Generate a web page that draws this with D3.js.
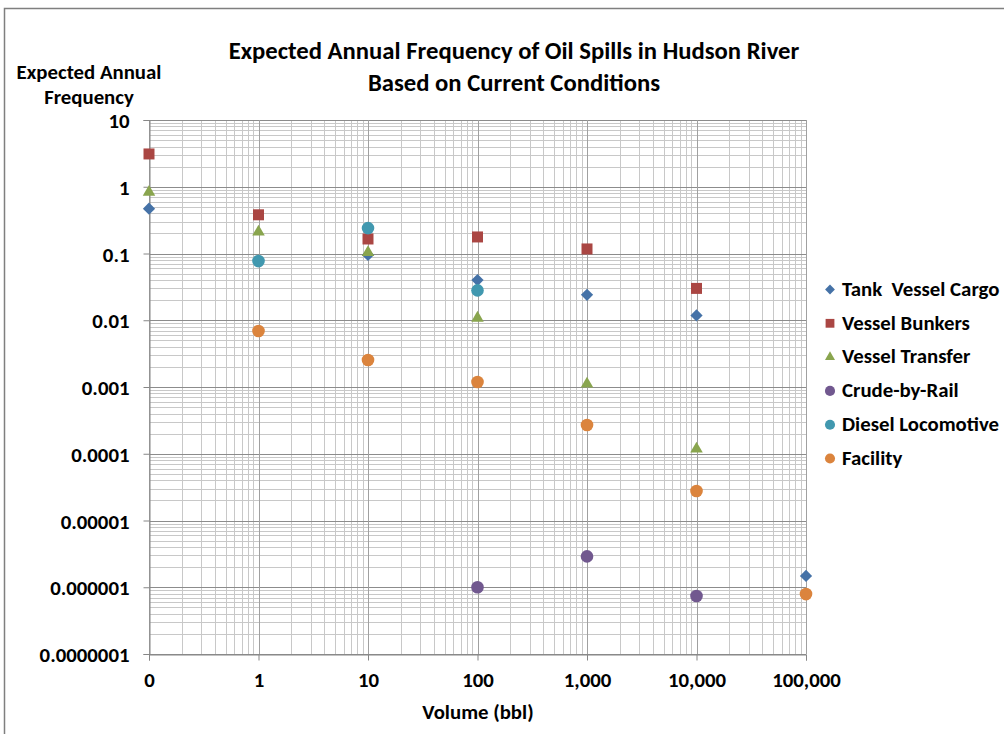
<!DOCTYPE html>
<html>
<head>
<meta charset="utf-8">
<script src="https://cdn.jsdelivr.net/npm/d3@7"></script>
<style>
body { margin: 0; background: #fff; }
text { font-family: Carlito, Calibri, Lato, "Open Sans", sans-serif; font-weight: bold; fill: #000; }
</style>
</head>
<body>
<script>
const width = 1004;
const height = 734;
const margin = {top: 120, right: 198, bottom: 80, left: 149};

// x positions (0 is drawn at the log axis minimum, 0.1)
const xTicks = [0.1, 1, 10, 100, 1000, 10000, 100000];
const yTicks = [1e-7, 1e-6, 1e-5, 1e-4, 1e-3, 1e-2, 1e-1, 1, 10];
const yTickLabels = ["0.0000001", "0.000001", "0.00001", "0.0001", "0.001", "0.01", "0.1", "1", "10"];

const seriesNames = ["Tank  Vessel Cargo", "Vessel Bunkers", "Vessel Transfer", "Crude-by-Rail", "Diesel Locomotive", "Facility"];
const seriesColors = ["#4572a7", "#aa4643", "#89a54e", "#71588f", "#4198af", "#db843d"];
const seriesShapes = ["diamond", "square", "triangle", "circle", "circle", "circle"];

const tankCargo = [[0.1, 0.47], [10, 0.095], [100, 0.040], [1000, 0.024], [10000, 0.0118], [100000, 0.00000148]];
const vesselBunkers = [[0.1, 3.1], [1, 0.38], [10, 0.165], [100, 0.177], [1000, 0.117], [10000, 0.030]];
const vesselTransfer = [[0.1, 0.83], [1, 0.21], [10, 0.104], [100, 0.0108], [1000, 0.00111], [10000, 0.000118]];
const crudeByRail = [[100, 0.0000010], [1000, 0.0000029], [10000, 0.00000074]];
const dieselLoco = [[1, 0.077], [10, 0.24], [100, 0.028]];
const facility = [[1, 0.0069], [10, 0.00254], [100, 0.00119], [1000, 0.00027], [10000, 0.0000277], [100000, 0.00000079]];

const seriesValues = [tankCargo, vesselBunkers, vesselTransfer, crudeByRail, dieselLoco, facility];

const svg = d3.select("body").append("svg")
  .attr("width", width)
  .attr("height", height);

svg.append("rect")
  .attr("width", width)
  .attr("height", height)
  .attr("fill", "#fff");

// chart area border
svg.append("rect")
  .attr("x", 4.5)
  .attr("y", 8.5)
  .attr("width", width + 20)
  .attr("height", height + 20)
  .attr("fill", "none")
  .attr("stroke", "#7f7f7f")
  .attr("stroke-width", 1.5);

const x = d3.scaleLog().domain([0.1, 100000]).range([margin.left, width - margin.right]);
const y = d3.scaleLog().domain([1e-7, 10]).range([height - margin.bottom, margin.top]);

// minor grid values
const minorX = [];
for (let d = 0.1; d < 100000; d *= 10)
  for (let k = 2; k <= 9; k++) minorX.push(d * k);
const minorY = [];
for (let d = 1e-7; d < 10; d *= 10)
  for (let k = 2; k <= 9; k++) minorY.push(d * k);

const grid = svg.append("g").attr("class", "grid");

grid.selectAll(".minor-y")
  .data(minorY)
  .join("line")
  .attr("x1", x.range()[0])
  .attr("x2", x.range()[1])
  .attr("y1", d => Math.round(y(d)) + 0.5)
  .attr("y2", d => Math.round(y(d)) + 0.5)
  .attr("stroke", "#c8c8c8")
  .attr("stroke-width", 1);

grid.selectAll(".minor-x")
  .data(minorX)
  .join("line")
  .attr("x1", d => Math.round(x(d)) + 0.5)
  .attr("x2", d => Math.round(x(d)) + 0.5)
  .attr("y1", y.range()[0])
  .attr("y2", y.range()[1])
  .attr("stroke", "#c8c8c8")
  .attr("stroke-width", 1);

grid.selectAll(".major-y")
  .data(yTicks)
  .join("line")
  .attr("x1", x.range()[0])
  .attr("x2", x.range()[1])
  .attr("y1", d => Math.round(y(d)) + 0.5)
  .attr("y2", d => Math.round(y(d)) + 0.5)
  .attr("stroke", "#8c8c8c")
  .attr("stroke-width", 1);

grid.selectAll(".major-x")
  .data(xTicks)
  .join("line")
  .attr("x1", d => Math.round(x(d)) + 0.5)
  .attr("x2", d => Math.round(x(d)) + 0.5)
  .attr("y1", y.range()[0])
  .attr("y2", y.range()[1])
  .attr("stroke", "#a0a0a0")
  .attr("stroke-width", 1);

// axes
const yAxis = svg.append("g")
  .attr("transform", `translate(${margin.left + 0.5},0)`)
  .call(d3.axisLeft(y).tickValues(yTicks).tickSize(6).tickPadding(14)
    .tickFormat((d, i) => yTickLabels[i]));

const xAxis = svg.append("g")
  .attr("transform", `translate(0,${height - margin.bottom + 0.5})`)
  .call(d3.axisBottom(x).tickValues(xTicks).tickSize(6).tickPadding(12)
    .tickFormat(d => d < 1 ? "0" : d3.format(",")(d)));

[yAxis, xAxis].forEach(a => {
  a.select(".domain").attr("stroke", "#868686");
  a.selectAll(".tick line").attr("stroke", "#868686");
  a.selectAll("text").style("font-size", "20.8px").attr("fill", "#000");
});
yAxis.selectAll("text").attr("dy", "0.36em");

// markers
function markerPath(shape, big) {
  const s = big ? 1 : 0.8;
  if (shape === "diamond") return d3.symbol(d3.symbolSquare, 75 * s * s)();
  if (shape === "square") return d3.symbol(d3.symbolSquare, 121 * s * s)();
  if (shape === "triangle") return d3.symbol(d3.symbolTriangle, 68 * s * s)();
  return d3.symbol(d3.symbolCircle, 125 * s * s)();
}

seriesValues.forEach((values, i) => {
  svg.append("g")
    .selectAll("path")
    .data(values)
    .join("path")
    .attr("d", markerPath(seriesShapes[i], true))
    .attr("transform", d => `translate(${x(d[0])},${y(d[1])})` + (seriesShapes[i] === "diamond" ? " rotate(45)" : ""))
    .attr("fill", seriesColors[i]);
});

// legend
const legend = svg.append("g").attr("transform", "translate(830,289.5)");
const rows = legend.selectAll("g")
  .data(seriesNames)
  .join("g")
  .attr("transform", (d, i) => `translate(0,${i * 33.8})`);
rows.append("path")
  .attr("d", (d, i) => markerPath(seriesShapes[i], false))
  .attr("transform", (d, i) => seriesShapes[i] === "diamond" ? "rotate(45)" : null)
  .attr("fill", (d, i) => seriesColors[i]);
rows.append("text")
  .attr("x", 12)
  .attr("dy", "0.3em")
  .style("font-size", "20.8px")
  .style("white-space", "pre")
  .text(d => d);

// titles
svg.append("text")
  .attr("x", 514)
  .attr("y", 59)
  .attr("text-anchor", "middle")
  .style("font-size", "24.7px")
  .text("Expected Annual Frequency of Oil Spills in Hudson River");
svg.append("text")
  .attr("x", 514)
  .attr("y", 91)
  .attr("text-anchor", "middle")
  .style("font-size", "24.7px")
  .text("Based on Current Conditions");

svg.append("text")
  .attr("x", 89)
  .attr("y", 79)
  .attr("text-anchor", "middle")
  .style("font-size", "20.8px")
  .text("Expected Annual");
svg.append("text")
  .attr("x", 89)
  .attr("y", 104)
  .attr("text-anchor", "middle")
  .style("font-size", "20.8px")
  .text("Frequency");

svg.append("text")
  .attr("x", 478)
  .attr("y", 719)
  .attr("text-anchor", "middle")
  .style("font-size", "20.8px")
  .text("Volume (bbl)");
</script>
</body>
</html>
